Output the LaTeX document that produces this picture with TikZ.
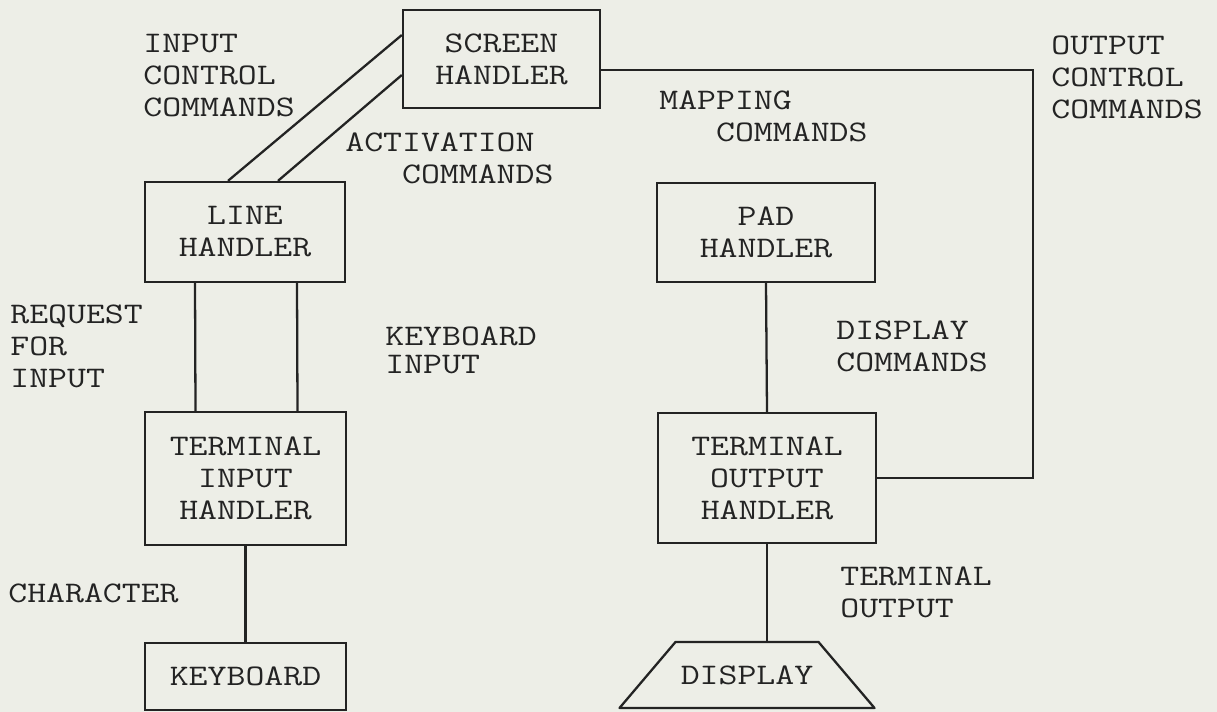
\documentclass[tikz,border=0pt]{standalone}
\usepackage{fontspec}
\setmonofont[FakeStretch=1.23]{Latin Modern Mono}
\usepackage{tikz}
\usetikzlibrary{positioning,shapes.geometric,calc}
\definecolor{paper}{RGB}{237,238,231}
\definecolor{ink}{RGB}{35,35,35}

\begin{document}
\begin{tikzpicture}[
  font=\ttfamily\fontsize{17}{18.2}\selectfont,
  handler/.style={rectangle,draw=ink,line width=1.3pt,text=ink,align=center,inner sep=0pt},
  lbl/.style={anchor=west,align=left,text=ink,inner sep=0pt},
  wire/.style={draw=ink,line width=1.3pt}
]
\fill[paper] (0,0) rectangle (24.34,14.24);
\useasboundingbox (0,0) rectangle (24.34,14.24);

% handlers
\node[handler,minimum width=3.94cm,minimum height=1.96cm] (screen) at (10.03,13.06) {SCREEN\\HANDLER};
\node[handler,minimum width=4cm,minimum height=2cm] (line) at (4.9,9.6) {LINE\\HANDLER};
\node[handler,minimum width=4.36cm,minimum height=1.98cm] (pad) at (15.32,9.59) {PAD\\HANDLER};
\node[handler,minimum width=4.02cm,minimum height=2.66cm] (tin) at (4.91,4.67) {TERMINAL\\INPUT\\HANDLER};
\node[handler,minimum width=4.36cm,minimum height=2.6cm] (tout) at (15.34,4.68) {TERMINAL\\OUTPUT\\HANDLER};
\node[handler,minimum width=4.02cm,minimum height=1.34cm] (keyb) at (4.91,0.71) {KEYBOARD};
\node[text=ink,inner sep=0pt] (disp) at (14.94,0.74) {DISPLAY};
\draw[wire,line join=round] ($(disp)+(-2.55,-0.66)$) -- ++(5.1,0) -- ++(-1.12,1.32) -- ++(-2.86,0) -- cycle;
\coordinate (disptop) at ($(disp)+(0,0.66)$);
\coordinate (bend) at (20.66,12.84);

% connectors
\draw[wire] ([yshift=0.48cm]screen.west) -- ([xshift=-0.34cm]line.north);
\draw[wire] ([yshift=-0.32cm]screen.west) -- ([xshift=0.66cm]line.north);
\draw[wire] ([xshift=-1cm]line.south) -- ([xshift=-1cm]tin.north);
\draw[wire] ([xshift=1.04cm]line.south) -- ([xshift=1.04cm]tin.north);
\draw[wire] (tin.south) -- (keyb.north);
\draw[wire] (pad.south) -- (tout.north);
\draw[wire] (tout.south) -- (tout.south |- disptop);
\draw[wire] ([yshift=-0.22cm]screen.east) -| (bend) |- (tout.east);

% labels
\node[lbl] (inctl) at (2.86,12.72) {INPUT\\CONTROL\\COMMANDS};
\node[lbl] (actv) at (6.9,11.07) {ACTIVATION\\\hphantom{XXX}COMMANDS};
\node[lbl] (mapg) at (13.18,11.91) {MAPPING\\\hphantom{XXX}COMMANDS};
\node[lbl] (outctl) at (21.02,12.7) {OUTPUT\\CONTROL\\COMMANDS};
\node[lbl] (req) at (0.2,7.31) {REQUEST\\FOR\\INPUT};
\node[lbl,font=\ttfamily\fontsize{17}{16}\selectfont] (kbin) at (7.7,7.24) {KEYBOARD\\INPUT};
\node[lbl] (dispcmd) at (16.72,7.32) {DISPLAY\\COMMANDS};
\node[lbl] (termout) at (16.8,2.39) {TERMINAL\\OUTPUT};
\node[lbl] (chr) at (0.16,2.38) {CHARACTER};
\end{tikzpicture}
\end{document}
